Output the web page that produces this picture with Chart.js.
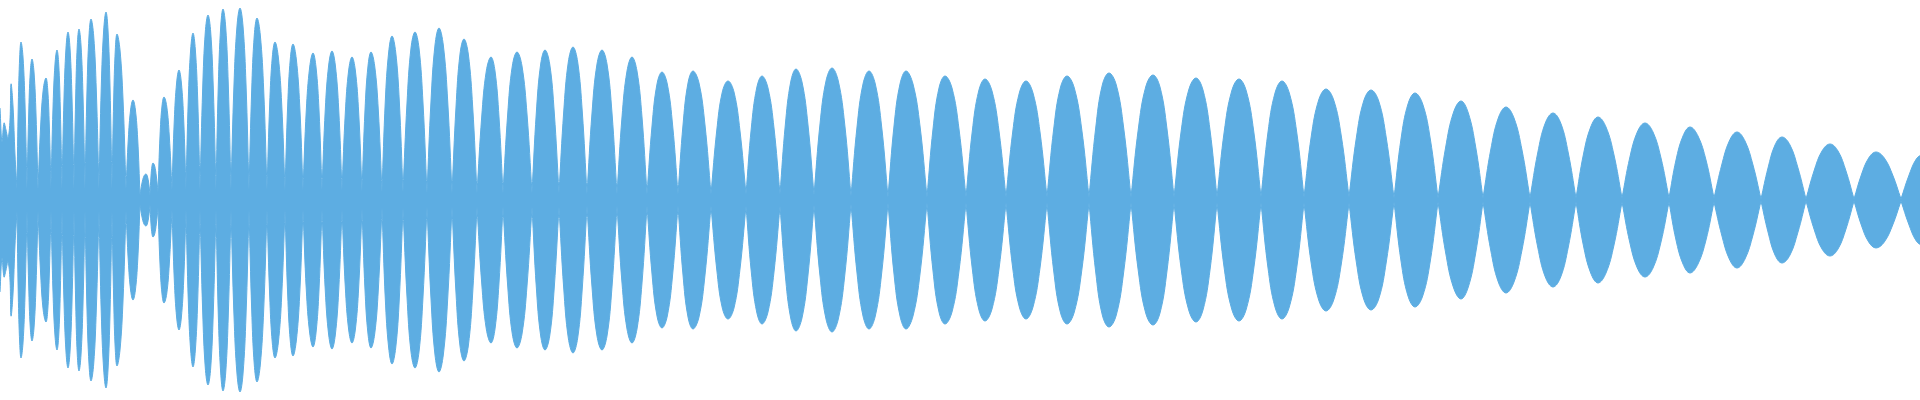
<!DOCTYPE html>
<html><head><meta charset="utf-8">
<script src="https://cdn.jsdelivr.net/npm/chart.js@4.4.1/dist/chart.umd.min.js"></script>
<style>html,body{margin:0;padding:0;background:#fff;overflow:hidden}#wrap{width:1920px;height:400px;position:relative}</style>
</head><body><div id="wrap"><canvas id="c"></canvas></div>
<script>
// sample position along the recording (one unit per pixel column of the original)
const sampleIndex = [0,2,4,6,8,10,11,13,15,17,
18.3,19.7,21,23,25,27,
28.7,30.3,32,34,36,38,
40.7,43.3,46,47.7,49.3,51,
53,55,57,58.7,60.3,62,
64,66,68,70,72,74,
75.7,77.3,79,81,83,85,
87,89,91,93.7,96.3,99,
101.3,103.7,106,108,110,112,
113.7,115.3,117,120,123,126,
128.3,130.7,133,135.3,137.7,140,
142,144,146,147.3,148.7,150,
151,152,153,154.7,156.3,158,
160,162,164,166.7,169.3,172,
174.3,176.7,179,181.3,183.7,186,
188.3,190.7,193,195.3,197.7,200,
202.7,205.3,208,210.7,213.3,216,
218.3,220.7,223,225.7,228.3,231,
234,237,240,243,246,249,
251.7,254.3,257,260.3,263.7,267,
269.7,272.3,275,278.3,281.7,285,
287.7,290.3,293,296.3,299.7,303,
306.3,309.7,313,316,319,322,
325.3,328.7,332,335.3,338.7,342,
345.3,348.7,352,355.3,358.7,362,
365,368,371,374.7,378.3,382,
385.3,388.7,392,395.7,399.3,403,
407,411,415,419,423,427,
431,435,439,443.3,447.7,452,
456,460,464,468.3,472.7,477,
481.7,486.3,491,495,499,503,
507.7,512.3,517,522,527,532,
536.3,540.7,545,549.7,554.3,559,
563.7,568.3,573,577.7,582.3,587,
592,597,602,607,612,617,
622,627,632,637,642,647,
652,657,662,667.3,672.7,678,
683,688,693,699,705,711,
716.7,722.3,728,734,740,746,
751.3,756.7,762,768,774,780,
785.3,790.7,796,802,808,814,
820,826,832,838.3,844.7,851,
857,863,869,875.3,881.7,888,
894,900,906,913,920,927,
933,939,945,952,959,966,
972.3,978.7,985,992,999,1006,
1012.7,1019.3,1026,1033,1040,1047,
1053.7,1060.3,1067,1074.3,1081.7,1089,
1095.7,1102.3,1109,1116.3,1123.7,1131,
1138.3,1145.7,1153,1160,1167,1174,
1181.3,1188.7,1196,1203,1210,1217,
1224.3,1231.7,1239,1246.3,1253.7,1261,
1268,1275,1282,1289.3,1296.7,1304,
1311.3,1318.7,1326,1333.7,1341.3,1349,
1356.3,1363.7,1371,1378.7,1386.3,1394,
1401,1408,1415,1422.7,1430.3,1438,
1445.7,1453.3,1461,1468.3,1475.7,1483,
1490.7,1498.3,1506,1514,1522,1530,
1537.7,1545.3,1553,1560.7,1568.3,1576,
1583.3,1590.7,1598,1606,1614,1622,
1629.7,1637.3,1645,1653,1661,1669,
1676,1683,1690,1698,1706,1714,
1721.7,1729.3,1737,1745,1753,1761,
1768,1775,1782,1790,1798,1806,
1814,1822,1830,1838,1846,1854,
1861.3,1868.7,1876,1884.3,1892.7,1901,
1908.7,1916.3,1924];

// envelope amplitude (half-height of the waveform) at each sample position
const amplitude = [92,58,77,70,62,80,116,94,45,11,
96,143,158,143,96,11,
86,128,141,128,86,11,
75,111,122,111,75,11,
92,136,150,136,92,11,
102,152,168,152,102,11,
104,155,171,155,104,11,
110,164,181,164,110,11,
114,170,188,170,114,11,
101,150,166,150,101,11,
61,91,100,91,61,5,
17,24,26,24,17,5,
24,34,37,34,24,8,
64,94,103,94,64,10,
80,118,130,118,80,10,
101,151,167,151,101,10,
112,168,185,168,112,10,
115,173,191,173,115,10,
116,174,192,174,116,10,
110,165,182,165,110,10,
96,143,158,143,96,10,
95,141,156,141,95,10,
90,133,147,133,90,10,
91,135,149,135,91,10,
87,130,143,130,87,9,
90,134,148,134,90,8,
99,148,164,148,99,8,
97,152,168,152,97,7,
99,155,172,155,99,7,
93,146,161,146,93,7,
83,129,143,129,83,7,
86,134,148,134,86,7,
87,136,150,136,87,7,
88,138,153,138,88,6,
87,136,150,136,87,6,
83,129,143,129,83,6,
74,116,128,116,74,6,
75,117,129,117,75,6,
69,108,119,108,69,6,
72,112,124,112,72,6,
75,118,131,118,75,5,
76,119,132,119,76,4,
73,116,129,116,73,3,
74,116,129,116,74,3,
71,112,124,112,71,3,
69,109,121,109,69,3,
68,107,119,107,68,3,
71,112,124,112,71,3,
72,115,127,115,72,3,
71,113,125,113,71,3,
70,110,122,110,70,3,
69,109,121,109,69,3,
68,107,119,107,68,3,
64,100,111,100,64,3,
62,99,110,99,62,2,
61,96,107,96,61,2,
53,87,99,87,53,2,
50,82,93,82,50,2,
47,77,87,77,47,2,
45,73,83,73,45,2,
42,68,77,68,42,2,
40,64,73,64,40,2,
35,59,68,59,35,1,
32,55,63,55,32,1,
29,49,56,49,29,1,
25,42,48,42,25,1,
24,41,47];

const waveColor = '#5DADE2';
const n = Math.min(sampleIndex.length, amplitude.length);

// split the envelope into lobes at its quiet points so each lobe keeps a sharp neck
const segments = [];
let seg = [];
for (let i = 0; i < n; i++) {
  seg.push(i);
  const boundary = i > 0 && i < n - 1 && amplitude[i] <= 12 &&
    amplitude[i] <= amplitude[i - 1] && amplitude[i] <= amplitude[i + 1];
  if (boundary) { segments.push(seg); seg = [i]; }
}
if (seg.length > 1) segments.push(seg);

const datasets = [];
const style = {borderColor: waveColor, backgroundColor: waveColor, borderWidth: 1, fill: 'origin', pointRadius: 0, tension: 0.4};
for (const s of segments) {
  datasets.push(Object.assign({data: s.map(i => ({x: sampleIndex[i], y: amplitude[i]}))}, style));
  datasets.push(Object.assign({data: s.map(i => ({x: sampleIndex[i], y: -amplitude[i]}))}, style));
}

new Chart(document.getElementById('c'), {
  type: 'line',
  data: {datasets},
  options: {
    responsive: true, maintainAspectRatio: false, animation: false,
    layout: {padding: 0},
    plugins: {legend: {display: false}, tooltip: {enabled: false}},
    scales: {
      x: {type: 'linear', display: false, min: 0, max: 1920},
      y: {display: false, min: -200, max: 200}
    }
  }
});
</script></body></html>
